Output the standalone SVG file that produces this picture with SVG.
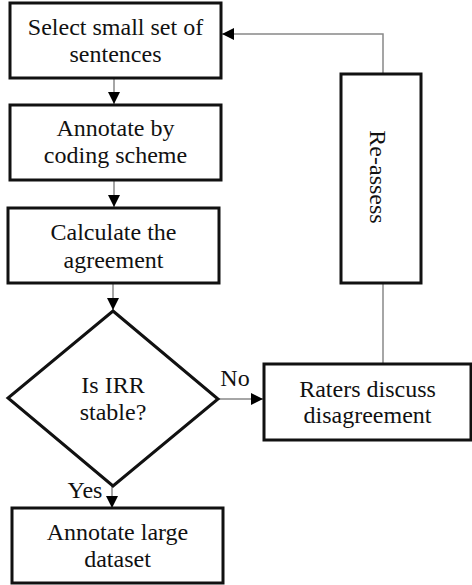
<svg xmlns="http://www.w3.org/2000/svg" width="472" height="585" viewBox="0 0 472 585">
<style>
.box{fill:#fff;stroke:#111;stroke-width:3}
.t{font-family:"Liberation Serif","Times New Roman",serif;font-size:24px;fill:#111;text-anchor:middle}
.c{fill:none;stroke:#888;stroke-width:1.5}
</style>
<defs>
<marker id="ah" viewBox="0 0 12 12" refX="12" refY="6" markerWidth="12" markerHeight="12" markerUnits="userSpaceOnUse" orient="auto">
<path d="M0,0 L12,6 L0,12 Z" fill="#000"/>
</marker>
</defs>
<rect width="472" height="585" fill="#fff"/>
<g id="connectors">
<line class="c" x1="114" y1="79" x2="114" y2="104" marker-end="url(#ah)"/>
<line class="c" x1="114" y1="181" x2="114" y2="207" marker-end="url(#ah)"/>
<line class="c" x1="113" y1="284" x2="113" y2="310" marker-end="url(#ah)"/>
<line class="c" x1="218" y1="399" x2="263" y2="399" marker-end="url(#ah)"/>
<line class="c" x1="112" y1="486" x2="112" y2="508" marker-end="url(#ah)"/>
<line class="c" x1="383" y1="364" x2="383" y2="283"/>
<polyline class="c" points="383,74 383,34 222,34" marker-end="url(#ah)"/>
<text class="t" x="235" y="386">No</text>
<text class="t" x="85" y="498">Yes</text>
</g>
<g id="select">
<rect class="box" x="10" y="3" width="211" height="75"/>
<text class="t" x="115.5" y="35">Select small set of</text>
<text class="t" x="115.5" y="62">sentences</text>
</g>
<g id="annotate">
<rect class="box" x="10" y="105" width="211" height="75"/>
<text class="t" x="115.5" y="136">Annotate by</text>
<text class="t" x="115.5" y="163">coding scheme</text>
</g>
<g id="calculate">
<rect class="box" x="8" y="208" width="211" height="75"/>
<text class="t" x="113.5" y="240">Calculate the</text>
<text class="t" x="113.5" y="268">agreement</text>
</g>
<g id="decision">
<polygon class="box" points="113,311 218,399 113,486 8,398"/>
<text class="t" x="113" y="393">Is IRR</text>
<text class="t" x="113" y="420">stable?</text>
</g>
<g id="large">
<rect class="box" x="12" y="508" width="211" height="75"/>
<text class="t" x="117.5" y="540">Annotate large</text>
<text class="t" x="117.5" y="567">dataset</text>
</g>
<g id="raters">
<rect class="box" x="264" y="364" width="207" height="76"/>
<text class="t" x="367.5" y="397">Raters discuss</text>
<text class="t" x="367.5" y="423">disagreement</text>
</g>
<g id="reassess">
<rect class="box" x="341" y="74" width="80" height="209"/>
<text class="t" transform="translate(370,177) rotate(90)">Re-assess</text>
</g>
</svg>
